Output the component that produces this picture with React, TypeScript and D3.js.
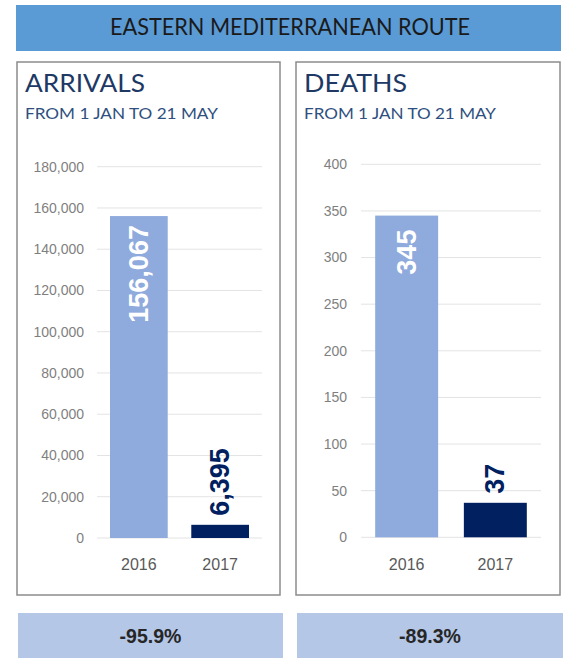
import React from "react";
import * as d3 from "d3";

const title = "EASTERN MEDITERRANEAN ROUTE";
const subtitle = "FROM 1 JAN TO 21 MAY";
const years = ["2016", "2017"];
const arrivals = [156067, 6395];
const deaths = [345, 37];
const arrivalTicks = [0, 20000, 40000, 60000, 80000, 100000, 120000, 140000, 160000, 180000];
const deathTicks = [0, 50, 100, 150, 200, 250, 300, 350, 400];
const changes = ["-95.9%", "-89.3%"];
const panelTitles = ["ARRIVALS", "DEATHS"];

const W = 564;
const H = 659;
const FONT_HEAD = "'Lato', 'Open Sans', sans-serif";
const FONT_NUM = "'Liberation Sans', Arial, sans-serif";
const NAVY = "#002060";
const LIGHT = "#8FAADC";

type PanelProps = {
  x0: number;
  x1: number;
  name: string;
  values: number[];
  ticks: number[];
  labelRight: number;
  gridX0: number;
  gridX1: number;
  yTop: number;
  yBottom: number;
  titleLen: number;
  subLen: number;
  insideOffset: number[];
  change: string;
};

function Panel(p: PanelProps) {
  const maxV = p.ticks[p.ticks.length - 1];
  const y = d3.scaleLinear().domain([0, maxV]).range([p.yBottom, p.yTop]);
  const x = d3
    .scaleBand<string>()
    .domain(years)
    .range([p.gridX0, p.gridX1])
    .paddingInner(0.29)
    .paddingOuter(0.16);
  const fmt = d3.format(",");
  return (
    <g>
      <rect x={p.x0} y={62} width={p.x1 - p.x0} height={533} fill="#fff" stroke="#8c8c8c" strokeWidth={1.5} />
      <text x={p.x0 + 8} y={92} fontFamily={FONT_HEAD} fontSize={25} fill="#203864" textLength={p.titleLen} lengthAdjust="spacingAndGlyphs">
        {p.name}
      </text>
      <text x={p.x0 + 8} y={119} fontFamily={FONT_HEAD} fontSize={16} fill="#2F4F80" textLength={p.subLen} lengthAdjust="spacingAndGlyphs">
        {subtitle}
      </text>
      {p.ticks.map((t) => (
        <g key={t}>
          <line x1={p.gridX0} x2={p.gridX1} y1={y(t)} y2={y(t)} stroke="#e3e3e3" strokeWidth={1} />
          <text x={p.labelRight} y={y(t)} dy="0.35em" textAnchor="end" fontFamily={FONT_NUM} fontSize={14} fill="#7f7f7f">
            {fmt(t)}
          </text>
        </g>
      ))}
      {years.map((yr, i) => {
        const v = p.values[i];
        const bx = x(yr)!;
        const bw = x.bandwidth();
        const top = y(v);
        const cx = bx + bw / 2;
        const inside = i === 0;
        const ly = inside ? top + p.insideOffset[i] : top - 9;
        return (
          <g key={yr}>
            <rect x={bx} y={top} width={bw} height={p.yBottom - top} fill={inside ? LIGHT : NAVY} />
            <text
              transform={`translate(${cx},${ly}) rotate(-90)`}
              textAnchor={inside ? "end" : "start"}
              dominantBaseline="central"
              fontFamily={FONT_NUM}
              fontWeight="bold"
              fontSize={27}
              fill={inside ? "#ffffff" : NAVY}
            >
              {fmt(v)}
            </text>
            <text x={cx} y={570} textAnchor="middle" fontFamily={FONT_NUM} fontSize={16} fill="#595959">
              {yr}
            </text>
          </g>
        );
      })}
      <rect x={p.x0 + 1} y={613} width={p.x1 - p.x0 + 2} height={45} fill="#B4C7E7" />
      <text x={(p.x0 + p.x1) / 2 + 2} y={636} dy="0.35em" textAnchor="middle" fontFamily={FONT_NUM} fontWeight="bold" fontSize={19.5} fill="#262626">
        {p.change}
      </text>
    </g>
  );
}

export default function App() {
  return (
    <svg
      width={W}
      height={H}
      viewBox={`0 0 ${W} ${H}`}
      style={{ position: "absolute", left: 0, top: 0, display: "block", background: "#fff" }}
    >
      <rect x={0} y={0} width={W} height={H} fill="#fff" />
      <rect x={16} y={5} width={545} height={46} fill="#5B9BD5" />
      <text x={290} y={35} textAnchor="middle" fontFamily={FONT_HEAD} fontSize={23} fill="#1a1a1a" textLength={360} lengthAdjust="spacingAndGlyphs">
        {title}
      </text>
      <Panel
        x0={17}
        x1={280}
        name={panelTitles[0]}
        values={arrivals}
        ticks={arrivalTicks}
        labelRight={84}
        gridX0={97}
        gridX1={262}
        yTop={166.7}
        yBottom={538}
        titleLen={120}
        subLen={193}
        insideOffset={[9, 9]}
        change={changes[0]}
      />
      <Panel
        x0={296}
        x1={560}
        name={panelTitles[1]}
        values={deaths}
        ticks={deathTicks}
        labelRight={347}
        gridX0={361}
        gridX1={541}
        yTop={164.3}
        yBottom={537.3}
        titleLen={103}
        subLen={192}
        insideOffset={[14, 14]}
        change={changes[1]}
      />
    </svg>
  );
}
